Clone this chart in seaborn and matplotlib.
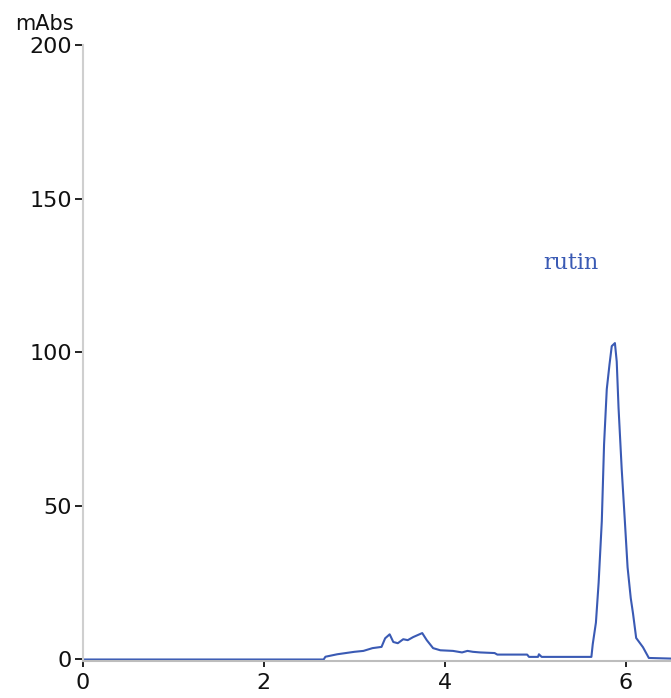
import matplotlib
matplotlib.use("Agg")
import matplotlib.pyplot as plt
import seaborn as sns
import pandas as pd

# Chromatogram data (retention time in min, absorbance in mAbs)
time = [0.00, 2.66, 2.68, 2.81, 3.00, 3.10, 3.20, 3.30, 3.34, 3.39, 3.43, 3.48,
        3.54, 3.59, 3.65, 3.75, 3.80, 3.87, 3.95, 4.09, 4.19, 4.25, 4.31, 4.39,
        4.55, 4.58, 4.91, 4.93, 5.03, 5.04, 5.07, 5.60,
        5.62, 5.635, 5.67, 5.70, 5.735, 5.76, 5.79, 5.82, 5.845, 5.88, 5.90,
        5.92, 5.955, 5.99, 6.02, 6.055, 6.08, 6.115, 6.19, 6.255, 6.50]
absorb = [0.0, 0.0, 0.9, 1.7, 2.5, 2.8, 3.7, 4.1, 6.9, 8.2, 5.7, 5.3,
          6.6, 6.3, 7.3, 8.6, 6.3, 3.7, 3.0, 2.8, 2.3, 2.8, 2.5, 2.3,
          2.1, 1.6, 1.6, 0.85, 0.85, 1.7, 0.85, 0.85,
          0.85, 5.0, 12.0, 25.0, 45.0, 70.0, 88.0, 96.0, 102.0, 103.0, 97.0,
          82.0, 62.0, 45.0, 30.0, 20.0, 15.0, 7.0, 4.0, 0.5, 0.3]

x_ticks = [0, 2, 4, 6]
y_ticks = [0, 50, 100, 150, 200]
peak_label = "rutin"
peak_label_pos = (5.39, 127)
y_unit = "mAbs"

line_color = "#3a5ab4"

sns.set_style("white")
plt.rcParams["font.family"] = ["DejaVu Sans"]

df = pd.DataFrame({"time": time, "abs": absorb})

fig = plt.figure(figsize=(6.71, 6.98), dpi=100)
ax = fig.add_axes([0.1237, 0.0534, 0.8763, 0.882])

sns.lineplot(data=df, x="time", y="abs", ax=ax, color=line_color,
             linewidth=1.5, estimator=None, sort=False)

ax.set_xlim(0, 6.5)
ax.set_ylim(-0.4, 200)
ax.set_xticks(x_ticks)
ax.set_xticklabels([str(v) for v in x_ticks])
ax.set_yticks(y_ticks)
ax.set_yticklabels([str(v) for v in y_ticks])
ax.set_xlabel("")
ax.set_ylabel("")

for s in ["top", "right"]:
    ax.spines[s].set_visible(False)
ax.spines["left"].set_color("#cfcfcf")
ax.spines["left"].set_linewidth(1.5)
ax.spines["bottom"].set_color("#bdbdbd")
ax.spines["bottom"].set_linewidth(1.5)

ax.tick_params(axis="y", direction="out", length=6, width=1.4, color="#222222",
               labelsize=16, pad=2, labelcolor="#111111", left=True)
ax.tick_params(axis="x", direction="out", length=4, width=1.4, color="#222222",
               labelsize=16, pad=5, labelcolor="#111111", bottom=True)

ax.text(peak_label_pos[0], peak_label_pos[1], peak_label, color=line_color,
        family="DejaVu Serif", fontsize=16, ha="center", va="baseline")

fig.text(15 / 671, 1 - 30 / 698, y_unit, fontsize=15, ha="left",
         va="baseline", color="#111111")

fig.savefig("out.png", dpi=100, facecolor="white")
